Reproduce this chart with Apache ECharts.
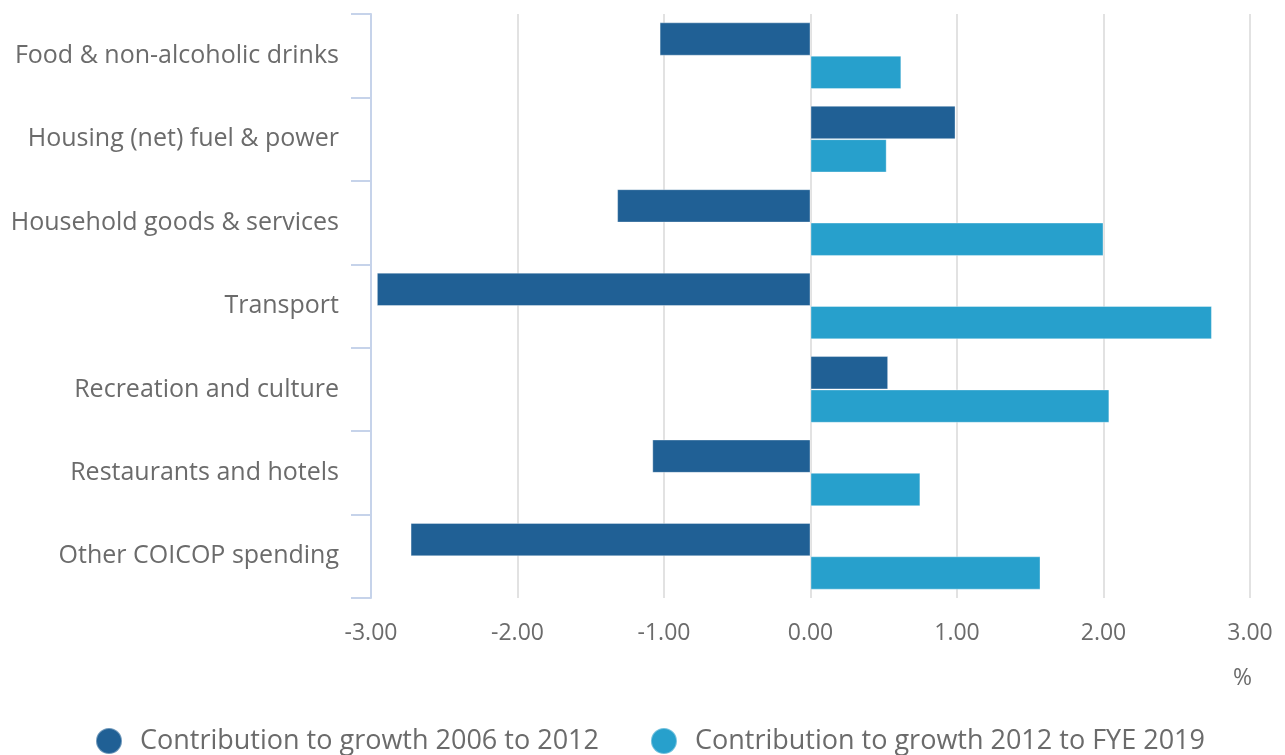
<!DOCTYPE html>
<html>
<head>
<meta charset="utf-8">
<script src="https://cdn.jsdelivr.net/npm/echarts@6/dist/echarts.min.js"></script>
<style>
  html, body { margin: 0; padding: 0; background: #fff; }
  #chart { width: 1285px; height: 755px; }
</style>
</head>
<body>
<div id="chart"></div>
<script>
const categories = [
  'Food & non-alcoholic drinks',
  'Housing (net) fuel & power',
  'Household goods & services',
  'Transport',
  'Recreation and culture',
  'Restaurants and hotels',
  'Other COICOP spending'
];
const growth2006to2012 = [-1.03, 0.99, -1.32, -2.96, 0.53, -1.08, -2.73];
const growth2012toFYE2019 = [0.62, 0.52, 2.00, 2.74, 2.04, 0.75, 1.57];
const seriesNames = ['Contribution to growth 2006 to 2012', 'Contribution to growth 2012 to FYE 2019'];

const chart = echarts.init(document.getElementById('chart'));
const textColor = '#6b6b6b';
const font = 'Open Sans';

const option = {
  animation: false,
  color: ['#206095', '#27a0cc'],
  textStyle: { fontFamily: font },
  grid: {
    left: 371,
    right: 35,
    top: 14,
    bottom: 157,
    containLabel: false
  },
  legend: {
    bottom: -5,
    left: 90,
    itemGap: 51,
    icon: 'circle',
    itemWidth: 26,
    itemHeight: 26,
    textStyle: { fontSize: 27, color: textColor, fontFamily: font, padding: [0, 0, 0, 13] },
    data: seriesNames
  },
  xAxis: {
    type: 'value',
    min: -3,
    max: 3,
    interval: 1,
    axisLine: { show: false },
    axisTick: { show: false },
    axisLabel: {
      color: textColor,
      fontSize: 23,
      margin: 24,
      formatter: v => v.toFixed(2)
    },
    splitLine: { show: true, lineStyle: { color: '#e2e2e2', width: 2 } }
  },
  yAxis: {
    type: 'category',
    inverse: true,
    data: categories,
    axisLine: { show: true, onZero: false, lineStyle: { color: '#c6d3ea', width: 2 } },
    axisTick: { show: true, length: 20, lineStyle: { color: '#c6d3ea', width: 2 } },
    axisLabel: { color: textColor, fontSize: 25, margin: 32, padding: [6, 0, 0, 0] },
    splitLine: { show: false }
  },
  graphic: [{
    type: 'text',
    right: 33,
    top: 667,
    style: { text: '%', fontSize: 23, fill: textColor, fontFamily: font }
  }],
  series: [
    {
      name: seriesNames[0],
      type: 'bar',
      data: growth2006to2012,
      barGap: '0%',
      barCategoryGap: '20%',
      itemStyle: { borderColor: 'rgba(255,255,255,0.35)', borderWidth: 1 }
    },
    {
      name: seriesNames[1],
      type: 'bar',
      data: growth2012toFYE2019,
      barGap: '0%',
      barCategoryGap: '20%',
      itemStyle: { borderColor: 'rgba(255,255,255,0.35)', borderWidth: 1 }
    }
  ]
};

chart.setOption(option);
</script>
</body>
</html>
